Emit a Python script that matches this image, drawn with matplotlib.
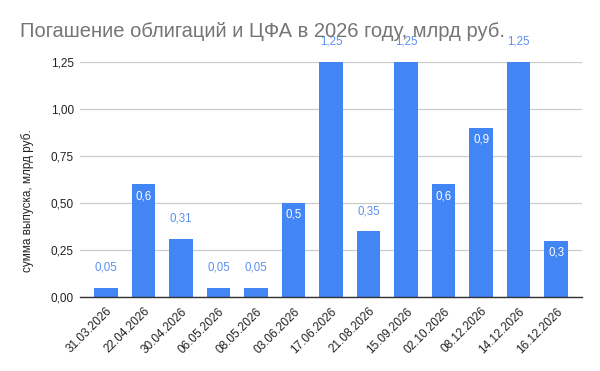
import numpy as np
import matplotlib.pyplot as plt

dates = ['31.03.2026', '22.04.2026', '30.04.2026', '06.05.2026', '08.05.2026',
         '03.06.2026', '17.06.2026', '21.08.2026', '15.09.2026', '02.10.2026',
         '08.12.2026', '14.12.2026', '16.12.2026']
values = [0.05, 0.6, 0.31, 0.05, 0.05, 0.5, 1.25, 0.35, 1.25, 0.6, 0.9, 1.25, 0.3]
value_labels = ['0,05', '0,6', '0,31', '0,05', '0,05', '0,5', '1,25', '0,35',
                '1,25', '0,6', '0,9', '1,25', '0,3']
# where Sheets put each data label: inside the bar or above it
label_inside = [False, True, False, False, False, True, False, False,
                False, True, True, False, True]
yticks = [0, 0.25, 0.5, 0.75, 1.0, 1.25]
ytick_labels = ['0,00', '0,25', '0,50', '0,75', '1,00', '1,25']

plt.rcParams['font.family'] = ['Liberation Sans', 'DejaVu Sans']

fig = plt.figure(figsize=(6.0, 3.71), dpi=100)
ax = fig.add_axes([80 / 600, 1 - 297 / 371, 502 / 600, 235 / 371])

x = np.arange(len(dates))
bar_color = '#4285f4'
ax.bar(x, values, width=0.63, color=bar_color, zorder=3)

for xi, v, lab, inside in zip(x, values, value_labels, label_inside):
    if inside:
        ax.annotate(lab, (xi, v), xytext=(0, -12), textcoords='offset pixels',
                    ha='center', va='center', fontsize=8.3, color='white', zorder=4)
    else:
        ax.annotate(lab, (xi, v), xytext=(0, 20), textcoords='offset pixels',
                    ha='center', va='center', fontsize=8.3, color='#5b8ff0',
                    zorder=4, annotation_clip=False)

ax.set_xlim(-0.69, len(dates) - 1 + 0.69)
ax.set_ylim(0, 1.25)
ax.set_yticks(yticks)
ax.set_yticklabels(ytick_labels, fontsize=8.5, color='#222222')
ax.set_xticks(x)
ax.set_xticklabels(dates, rotation=45, ha='right', rotation_mode='anchor',
                   fontsize=8.5, color='#222222')
ax.tick_params(axis='both', length=0)
ax.tick_params(axis='y', pad=4.5)
ax.tick_params(axis='x', pad=6)

ax.grid(axis='y', color='#cccccc', linewidth=0.9, zorder=0)
for side in ['top', 'right', 'left']:
    ax.spines[side].set_visible(False)
ax.spines['bottom'].set_color('#333333')
ax.spines['bottom'].set_linewidth(1.0)
ax.spines['bottom'].set_zorder(5)

ax.set_ylabel('сумма выпуска, млрд руб.', fontsize=8.5, color='#222222')
ax.yaxis.set_label_coords(-0.091, 0.41)

fig.text(20 / 600, 1 - 37.3 / 371, 'Погашение облигаций и ЦФА в 2026 году, млрд руб.',
         fontsize=14.5, color='#757575', va='baseline', ha='left')

fig.savefig('out.png', dpi=100, facecolor='white')
